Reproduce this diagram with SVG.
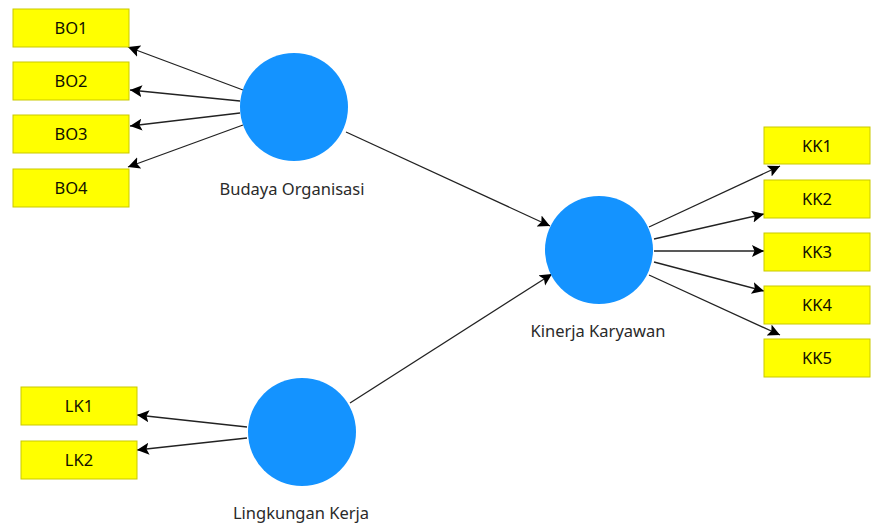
<svg xmlns="http://www.w3.org/2000/svg" width="872" height="525" viewBox="0 0 872 525">
<style>
.box{fill:#ffff00;stroke:#c9c900;stroke-width:1}
.bt{font-family:"Noto Sans","Open Sans",sans-serif;font-size:16.5px;fill:#111100;text-anchor:middle}
.lv{fill:#1493ff}
.lt{font-family:"Noto Sans","Open Sans",sans-serif;font-size:16.5px;fill:#2a2a2a;text-anchor:middle}
.c{stroke:#222;stroke-width:1.3;fill:none;marker-end:url(#ah)}
</style>
<defs>
<marker id="ah" markerUnits="userSpaceOnUse" markerWidth="14" markerHeight="14" refX="12" refY="6" orient="auto">
<path d="M0,0 L12,6 L0,12 L2.5,6 z" fill="#000"/>
</marker>
</defs>
<rect width="872" height="525" fill="#fff"/>
<g id="connectors">
<line class="c" x1="243" y1="90" x2="128" y2="47"/>
<line class="c" x1="240" y1="101" x2="130" y2="90"/>
<line class="c" x1="240" y1="113" x2="130" y2="126"/>
<line class="c" x1="243" y1="125" x2="128" y2="167"/>
<line class="c" x1="346" y1="132" x2="550" y2="226"/>
<line class="c" x1="350" y1="403" x2="552" y2="274"/>
<line class="c" x1="649" y1="227" x2="780" y2="166"/>
<line class="c" x1="654" y1="239" x2="764" y2="214"/>
<line class="c" x1="654" y1="251" x2="764" y2="251"/>
<line class="c" x1="654" y1="262" x2="764" y2="291"/>
<line class="c" x1="649" y1="275" x2="780" y2="335"/>
<line class="c" x1="247" y1="427" x2="137" y2="415"/>
<line class="c" x1="247" y1="438" x2="137" y2="450"/>
</g>
<g id="BO1"><rect class="box" x="13" y="9" width="116" height="38"/><text class="bt" x="71" y="34">BO1</text></g>
<g id="BO2"><rect class="box" x="13" y="62" width="116" height="38"/><text class="bt" x="71" y="87">BO2</text></g>
<g id="BO3"><rect class="box" x="13" y="115" width="116" height="38"/><text class="bt" x="71" y="140">BO3</text></g>
<g id="BO4"><rect class="box" x="13" y="169" width="116" height="38"/><text class="bt" x="71" y="194">BO4</text></g>
<g id="KK1"><rect class="box" x="764" y="127" width="106" height="37"/><text class="bt" x="817" y="152">KK1</text></g>
<g id="KK2"><rect class="box" x="764" y="180" width="106" height="38"/><text class="bt" x="817" y="205">KK2</text></g>
<g id="KK3"><rect class="box" x="764" y="233" width="106" height="38"/><text class="bt" x="817" y="258">KK3</text></g>
<g id="KK4"><rect class="box" x="764" y="286" width="106" height="38"/><text class="bt" x="817" y="311">KK4</text></g>
<g id="KK5"><rect class="box" x="764" y="339" width="106" height="38"/><text class="bt" x="817" y="364">KK5</text></g>
<g id="LK1"><rect class="box" x="21" y="387" width="116" height="38"/><text class="bt" x="79" y="412">LK1</text></g>
<g id="LK2"><rect class="box" x="21" y="441" width="116" height="38"/><text class="bt" x="79" y="466">LK2</text></g>
<g id="BudayaOrganisasi"><circle class="lv" cx="294" cy="107" r="54"/><text class="lt" x="292" y="195">Budaya Organisasi</text></g>
<g id="KinerjaKaryawan"><circle class="lv" cx="599" cy="250" r="54"/><text class="lt" x="598" y="337">Kinerja Karyawan</text></g>
<g id="LingkunganKerja"><circle class="lv" cx="302" cy="432" r="54"/><text class="lt" x="301" y="519">Lingkungan Kerja</text></g>
</svg>
